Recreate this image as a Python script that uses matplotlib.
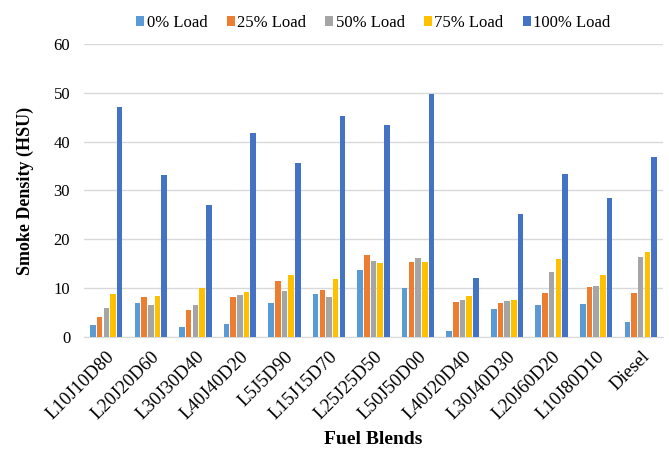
import matplotlib.pyplot as plt
import numpy as np

plt.rcParams['font.family'] = ['Liberation Serif', 'DejaVu Serif']

blends = ['L10J10D80', 'L20J20D60', 'L30J30D40', 'L40J40D20', 'L5J5D90',
          'L15J15D70', 'L25J25D50', 'L50J50D00', 'L40J20D40', 'L30J40D30',
          'L20J60D20', 'L10J80D10', 'Diesel']

load_0 = [2.4, 6.9, 2.1, 2.7, 6.9, 8.8, 13.7, 10.1, 1.2, 5.8, 6.5, 6.8, 3.1]
load_25 = [4.0, 8.2, 5.6, 8.2, 11.5, 9.6, 16.8, 15.3, 7.1, 6.9, 9.0, 10.3, 9.1]
load_50 = [6.0, 6.6, 6.6, 8.6, 9.5, 8.2, 15.6, 16.2, 7.5, 7.3, 13.4, 10.5, 16.3]
load_75 = [8.8, 8.3, 10.0, 9.3, 12.6, 11.9, 15.1, 15.4, 8.4, 7.6, 16.0, 12.8, 17.4]
load_100 = [47.1, 33.1, 27.0, 41.8, 35.7, 45.2, 43.4, 49.7, 12.1, 25.2, 33.3, 28.5, 36.8]

series = [load_0, load_25, load_50, load_75, load_100]
labels = ['0% Load', '25% Load', '50% Load', '75% Load', '100% Load']
colors = ['#5B9BD5', '#ED7D31', '#A5A5A5', '#FFC000', '#4472C4']

fig = plt.figure(figsize=(6.69, 4.53), dpi=100)
ax = fig.add_axes([0.1256, 0.256, 0.8654, 0.647])

x = np.arange(len(blends))
pitch = 0.15
width = 0.125
for i, (vals, lab, col) in enumerate(zip(series, labels, colors)):
    ax.bar(x + (i - 2) * pitch, vals, width, color=col, label=lab, zorder=3)

ax.set_xlim(-0.5, len(blends) - 0.5)
ax.set_ylim(0, 60)
ax.set_yticks(range(0, 61, 10))
ax.grid(axis='y', color='#D9D9D9', linewidth=1, zorder=0)
for s in ['top', 'right', 'left']:
    ax.spines[s].set_visible(False)
ax.spines['bottom'].set_color('#D9D9D9')
ax.tick_params(axis='y', length=0, labelsize=12, pad=10)
ax.tick_params(axis='x', length=0, labelsize=13.5, pad=8)
ax.set_xticks(x)
ax.set_xticklabels(blends, rotation=45, ha='right', rotation_mode='anchor')

ax.set_ylabel('Smoke Density (HSU)', fontsize=13, fontweight='bold', labelpad=14)
ax.set_xlabel('Fuel Blends', fontsize=14, fontweight='bold', labelpad=6)

fig.legend(loc='upper center', bbox_to_anchor=(0.558, 1.0), ncol=5, frameon=False,
           fontsize=12, handlelength=0.48, handleheight=0.48, handletextpad=0.15,
           columnspacing=1.15)

fig.savefig('out.png', dpi=100)
